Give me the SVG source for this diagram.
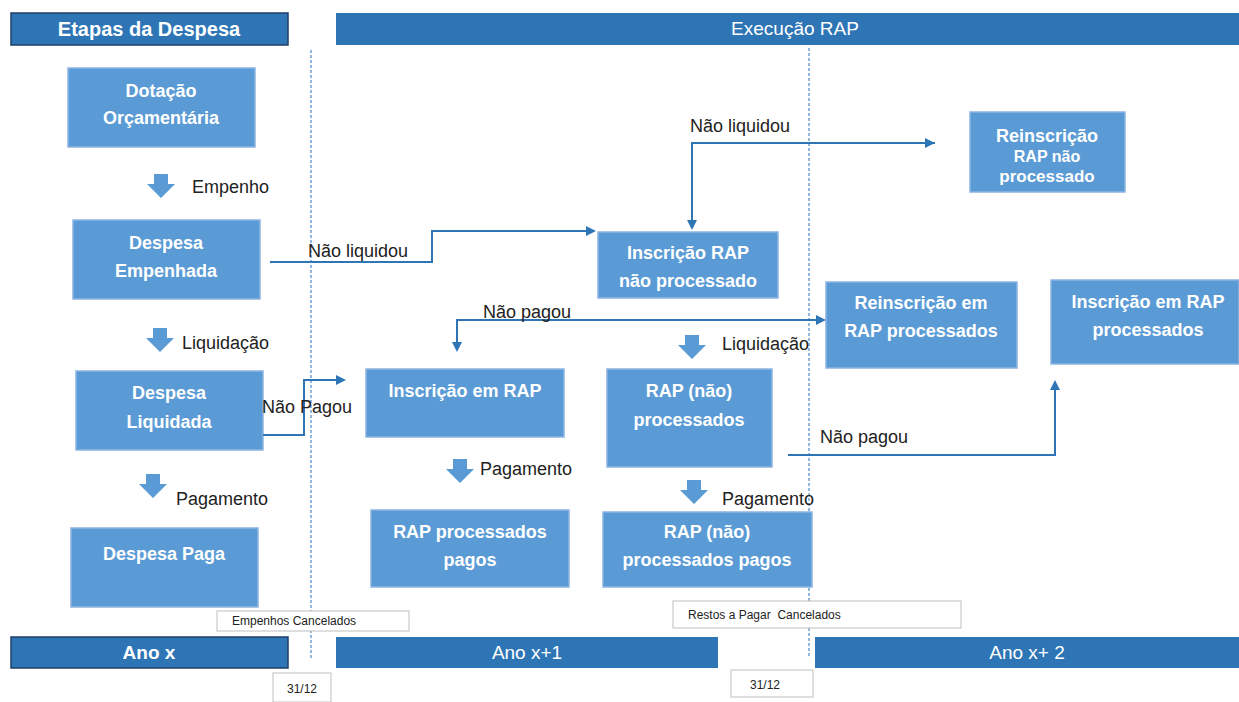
<svg xmlns="http://www.w3.org/2000/svg" width="1239" height="702" viewBox="0 0 1239 702">
<style>
.band{fill:#2E75B6;stroke:#1F3F66;stroke-width:1.5}
.band2{fill:#2E75B6}
.bt{font-family:"Liberation Sans",Arial,sans-serif;font-weight:bold;font-size:19px;fill:#fff;text-anchor:middle}
.box{fill:#5B9BD5;stroke:#8DB4E2;stroke-width:1.5}
.nt{font-family:"Liberation Sans",Arial,sans-serif;font-weight:bold;font-size:18px;fill:#fff;text-anchor:middle}
.lb{font-family:"Liberation Sans",Arial,sans-serif;font-size:18px;fill:#222}
.sm{font-family:"Liberation Sans",Arial,sans-serif;font-size:12px;fill:#222}
.smb{fill:#fff;stroke:#BFBFBF;stroke-width:1}
.con{fill:none;stroke:#2E75B6;stroke-width:2}
.dash{stroke:#6FA0D4;stroke-width:1.5;stroke-dasharray:3 2;fill:none}
.da{fill:#5B9BD5}
</style>
<defs>
<marker id="ah" markerWidth="10" markerHeight="10" refX="8" refY="5" orient="auto" markerUnits="userSpaceOnUse">
<path d="M0,0 L10,5 L0,10 z" fill="#2E75B6"/>
</marker>
<path id="darrow" d="M-7,0 h14 v10 h7 l-14,14 l-14,-14 h7 z"/>
</defs>
<rect width="1239" height="702" fill="#fff"/>

<g id="dividers">
<line class="dash" x1="311" y1="50" x2="311" y2="658"/>
<line class="dash" x1="809" y1="48" x2="809" y2="656"/>
</g>

<g id="header-etapas"><rect class="band" x="11" y="13" width="277" height="32"/><text class="bt" x="149" y="36" style="font-size:20px">Etapas da Despesa</text></g>
<g id="header-rap"><rect class="band2" x="336" y="13" width="903" height="32"/><text class="bt" x="795" y="35" style="font-weight:normal">Execução RAP</text></g>

<g id="n-dotacao"><rect class="box" x="68" y="68" width="187" height="79"/><text class="nt" x="161" y="97">Dotação</text><text class="nt" x="161" y="124">Orçamentária</text></g>
<g id="n-empenhada"><rect class="box" x="73" y="220" width="187" height="79"/><text class="nt" x="166" y="249">Despesa</text><text class="nt" x="166" y="277">Empenhada</text></g>
<g id="n-liquidada"><rect class="box" x="76" y="371" width="187" height="79"/><text class="nt" x="169" y="399">Despesa</text><text class="nt" x="169" y="428">Liquidada</text></g>
<g id="n-paga"><rect class="box" x="71" y="528" width="187" height="79"/><text class="nt" x="164" y="560">Despesa Paga</text></g>
<g id="n-insc-rap-np"><rect class="box" x="598" y="232" width="180" height="66"/><text class="nt" x="688" y="259">Inscrição RAP</text><text class="nt" x="688" y="287">não processado</text></g>
<g id="n-reinsc-np"><rect class="box" x="970" y="112" width="155" height="80"/><text class="nt" x="1047" y="142">Reinscrição</text><text class="nt" x="1047" y="162" style="font-size:16px">RAP não</text><text class="nt" x="1047" y="182" style="font-size:17px">processado</text></g>
<g id="n-reinsc-p"><rect class="box" x="826" y="282" width="191" height="86"/><text class="nt" x="921" y="309">Reinscrição em</text><text class="nt" x="921" y="337">RAP processados</text></g>
<g id="n-insc-p"><rect class="box" x="1051" y="280" width="188" height="84"/><text class="nt" x="1148" y="308">Inscrição em RAP</text><text class="nt" x="1148" y="336">processados</text></g>
<g id="n-insc-rap"><rect class="box" x="366" y="369" width="198" height="68"/><text class="nt" x="465" y="397">Inscrição em RAP</text></g>
<g id="n-rap-np"><rect class="box" x="607" y="369" width="165" height="98"/><text class="nt" x="689" y="397">RAP (não)</text><text class="nt" x="689" y="426">processados</text></g>
<g id="n-rap-p-pagos"><rect class="box" x="371" y="510" width="198" height="77"/><text class="nt" x="470" y="538">RAP processados</text><text class="nt" x="470" y="566">pagos</text></g>
<g id="n-rap-np-pagos"><rect class="box" x="603" y="512" width="209" height="75"/><text class="nt" x="707" y="538">RAP (não)</text><text class="nt" x="707" y="566">processados pagos</text></g>

<g id="connectors">
<path class="con" d="M270,262 H432 V231 H594" marker-end="url(#ah)"/>
<path class="con" d="M935,143 H692 V228" marker-end="url(#ah)"/>
<path class="con" d="M692,143 H933" marker-end="url(#ah)"/>
<path class="con" d="M457,350 V320 H824" marker-end="url(#ah)"/>
<path class="con" d="M700,320 H457 V350" marker-end="url(#ah)"/>
<path class="con" d="M263,435 H304 V380 H344" marker-end="url(#ah)"/>
<path class="con" d="M788,455 H1055 V382" marker-end="url(#ah)"/>
<use href="#darrow" class="da" x="161" y="174"/>
<use href="#darrow" class="da" x="160" y="328"/>
<use href="#darrow" class="da" x="153" y="474"/>
<use href="#darrow" class="da" x="460" y="459"/>
<use href="#darrow" class="da" x="692" y="335"/>
<use href="#darrow" class="da" x="694" y="480"/>
</g>

<g id="labels">
<text class="lb" x="192" y="193">Empenho</text>
<text class="lb" x="182" y="349">Liquidação</text>
<text class="lb" x="176" y="505">Pagamento</text>
<text class="lb" x="480" y="475">Pagamento</text>
<text class="lb" x="722" y="350">Liquidação</text>
<text class="lb" x="722" y="505">Pagamento</text>
<text class="lb" x="308" y="257">Não liquidou</text>
<text class="lb" x="690" y="132">Não liquidou</text>
<text class="lb" x="483" y="318">Não pagou</text>
<text class="lb" x="262" y="413">Não Pagou</text>
<text class="lb" x="820" y="443">Não pagou</text>
</g>

<g id="cancel-empenhos"><rect class="smb" x="217" y="611" width="192" height="20"/><text class="sm" x="232" y="625">Empenhos Cancelados</text></g>
<g id="cancel-rap"><rect class="smb" x="673" y="601" width="288" height="27"/><text class="sm" x="688" y="619" style="white-space:pre">Restos a Pagar  Cancelados</text></g>

<g id="ano-x"><rect class="band" x="11" y="637" width="277" height="31"/><text class="bt" x="149" y="659">Ano x</text></g>
<g id="ano-x1"><rect class="band2" x="336" y="637" width="382" height="31"/><text class="bt" x="527" y="659" style="font-weight:normal">Ano x+1</text></g>
<g id="ano-x2"><rect class="band2" x="815" y="637" width="424" height="31"/><text class="bt" x="1027" y="659" style="font-weight:normal">Ano x+ 2</text></g>

<g id="date1"><rect class="smb" x="273" y="673" width="58" height="29"/><text class="sm" x="302" y="693" text-anchor="middle">31/12</text></g>
<g id="date2"><rect class="smb" x="731" y="670" width="82" height="27"/><text class="sm" x="765" y="689" text-anchor="middle">31/12</text></g>
</svg>
